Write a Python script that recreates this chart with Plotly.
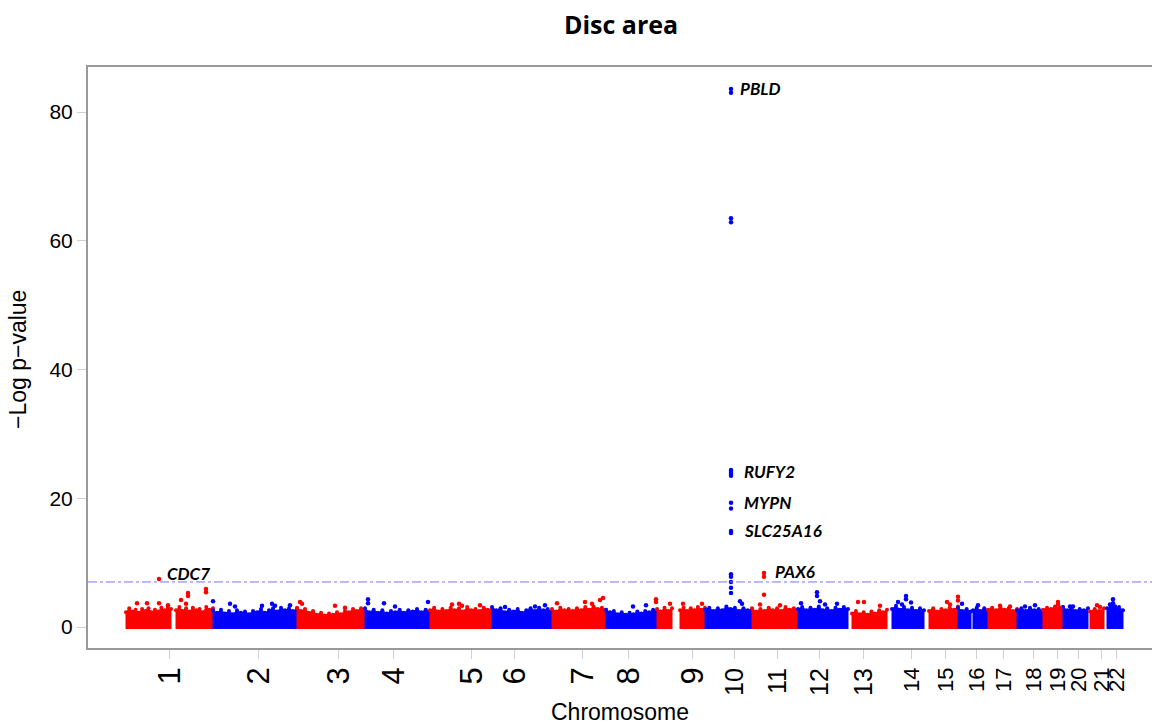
import numpy as np
import plotly.graph_objects as go

# ---------------- data ----------------
CHROM_LABELS = [str(i) for i in range(1, 23)]
# tick positions on the cumulative genome axis (arbitrary units)
CHROM_TICKS = [81, 170, 250, 305, 383, 426, 494, 540, 604, 646, 689,
               731, 775, 823, 857, 888, 915, 945, 969, 990, 1013, 1028]
LABEL_SIZES = [31] * 9 + [25] * 4 + [22] * 9

# genomic segments (chromosome index, start, end) with the upper envelope of the dense SNP band
SEG_CHROM = [1, 1, 2, 3, 4, 5, 6, 7, 8, 9, 9, 10, 11, 12, 13, 14, 15, 16, 16, 17, 18, 19, 20, 21, 22]
SEG_START = [38, 88, 125, 209, 277, 342, 404, 464, 518, 569, 592, 617, 664, 710, 764, 804, 841, 870, 885, 900, 929, 955, 975, 1002, 1019]
SEG_END = [83, 125, 209, 277, 342, 404, 464, 518, 569, 584, 617, 664, 710, 760, 799, 836, 870, 883, 900, 929, 955, 975, 1000, 1016, 1035]
SEG_ENV = [
    [2.3, 2.9, 2.4, 2.7, 2.2, 2.8, 2.5, 2.9, 2.3, 2.7, 2.4, 3.0, 2.6, 3.1, 2.8],
    [2.6, 3.1, 2.5, 2.9, 2.4, 3.0, 2.6, 2.8, 2.3, 3.1, 2.7, 2.9],
    [2.6, 2.2, 2.7, 2.1, 2.5, 2.0, 2.6, 2.2, 2.4, 2.0, 2.5, 2.3, 2.8, 2.2, 2.6, 2.9, 2.4, 3.0, 2.6, 2.9, 2.5, 2.8],
    [3.0, 2.5, 2.8, 2.2, 2.5, 1.9, 2.2, 1.8, 2.1, 1.9, 2.3, 2.0, 2.5, 2.3, 2.8, 2.5, 2.9, 2.6],
    [2.9, 2.3, 2.7, 2.2, 2.6, 2.1, 2.5, 2.3, 2.7, 2.2, 2.6, 2.4, 2.8, 2.3, 2.7, 2.5],
    [2.6, 3.0, 2.4, 2.8, 2.5, 3.0, 2.6, 2.9, 2.4, 3.1, 2.6, 2.8, 2.5, 3.0, 2.7, 2.8],
    [3.1, 2.6, 2.9, 2.3, 2.7, 2.4, 2.8, 2.2, 2.6, 2.9, 2.5, 3.0, 2.6, 2.8, 2.4],
    [2.8, 2.4, 3.0, 2.6, 2.8, 2.5, 2.9, 2.6, 3.1, 2.7, 3.2, 2.8, 3.0, 2.7],
    [2.7, 2.3, 2.5, 2.0, 2.3, 1.9, 2.2, 2.0, 2.4, 2.1, 2.5, 2.3, 2.7, 2.5],
    [2.8, 2.4, 3.0, 2.5, 2.9],
    [2.6, 3.0, 2.5, 2.9, 2.6, 3.1, 2.7, 3.0],
    [2.7, 3.0, 2.5, 2.9, 2.6, 3.2, 2.8, 3.0, 2.5, 2.9, 2.6, 2.8],
    [2.9, 2.4, 2.8, 2.5, 3.0, 2.6, 2.9, 2.5, 3.1, 2.7, 2.9, 2.6],
    [2.8, 3.1, 2.6, 3.0, 2.7, 3.2, 2.6, 2.9, 2.5, 3.0, 2.7, 3.1, 2.8],
    [2.1, 2.5, 2.0, 2.3, 1.9, 2.4, 2.1, 2.6, 2.3, 2.7],
    [2.8, 3.3, 2.7, 3.1, 2.6, 3.0, 2.5, 2.9, 2.6],
    [2.5, 2.9, 2.4, 2.8, 2.6, 3.0, 2.7, 3.2],
    [3.0, 2.5, 2.8, 2.4],
    [2.6, 3.0, 2.5, 2.9, 2.6],
    [2.7, 3.0, 2.6, 3.1, 2.7, 2.9, 2.5, 2.8],
    [2.6, 2.9, 2.5, 3.0, 2.6, 2.8, 2.5],
    [2.7, 3.0, 2.8, 3.2, 2.9, 3.1],
    [3.1, 2.6, 2.9, 2.5, 2.8, 2.6, 2.9],
    [2.4, 2.8, 2.5, 2.9],
    [2.9, 3.4, 2.8, 3.1, 2.6],
]

# individual SNPs standing out of the band (chromosome, position, -log10 p)
SNP_CHROM = [1] * 11 + [2] * 7 + [3] * 4 + [4] * 5 + [5] * 4 + [6] * 3 + [7] * 5 + [8] * 2 + [9] * 5 \
    + [10] * 19 + [11] * 5 + [12] * 6 + [13] * 3 + [14] * 5 + [15] * 4 + [16] * 2 + [17] * 2 + [18] * 2 \
    + [19] * 3 + [20] * 2 + [21] * 2 + [22] * 4
SNP_POS = [71, 49, 59, 71, 93, 100, 100, 98, 118, 118, 80,
           125, 142, 147, 184, 202, 187, 174,
           212, 214, 247, 257,
           280, 280, 296, 307, 340,
           364, 371, 392, 374,
           417, 457, 447,
           469, 497, 512, 515, 504,
           545, 558,
           568, 568, 582, 595, 614,
           643, 643, 643, 643, 643, 643, 643, 643, 643, 643, 643, 643, 643, 643, 643, 643, 643, 652, 654,
           676, 676, 676, 672, 692,
           729, 729, 713, 749, 732, 737,
           770, 776, 792,
           818, 818, 810, 823, 814,
           859, 870, 870, 862,
           890, 874,
           912, 922,
           947, 937,
           970, 970, 972,
           982, 985,
           1009, 1012,
           1025, 1025, 1022, 1027]
SNP_LOGP = [7.45, 3.7, 3.7, 3.7, 4.2, 5.3, 4.8, 3.6, 5.9, 5.4, 3.4,
            4.0, 3.6, 3.2, 3.6, 3.4, 3.3, 3.3,
            3.9, 3.6, 3.3, 3.0,
            4.3, 3.7, 3.7, 3.2, 3.9,
            3.5, 3.6, 3.4, 3.3,
            3.1, 3.4, 3.2,
            3.7, 3.9, 4.2, 4.5, 3.6,
            3.2, 3.4,
            4.3, 3.9, 3.6, 3.6, 3.6,
            83.6, 83.0, 63.5, 62.9, 24.4, 24.1, 23.8, 23.5, 19.3, 18.4, 14.9, 14.6, 8.2, 7.8, 7.0, 6.1, 5.3, 4.0, 3.6,
            8.4, 7.8, 5.0, 3.5, 3.4,
            5.4, 4.8, 3.7, 3.6, 4.0, 3.5,
            3.9, 3.9, 3.3,
            4.8, 4.3, 3.9, 3.8, 3.5,
            3.9, 4.7, 4.1, 3.5,
            3.4, 3.6,
            3.3, 3.2,
            3.4, 3.2,
            3.9, 3.5, 3.0,
            3.2, 3.2,
            3.4, 3.1,
            4.3, 3.7, 3.5, 3.2]

# annotated genes (label, position, -log10 p of lead SNP)
GENE_NAMES = ["PBLD", "RUFY2", "MYPN", "SLC25A16", "PAX6", "CDC7"]
GENE_POS = [643, 643, 643, 643, 676, 71]
GENE_LOGP = [83.6, 24.1, 18.9, 14.75, 8.4, 7.45]

THRESHOLD = 7.0
TITLE = "Disc area"

# ---------------- styling ----------------
RED, BLUE = "#ff0000", "#0000ff"
def chrom_color(c):
    return RED if c % 2 == 1 else BLUE

NUM_FONT = "Liberation Sans, Arial, sans-serif"
W, H = 1152, 726
ML, MR, MT, MB = 88, 0, 67, 78
XR = [0, 1064]
YR = [-3.26, 87.0]

fig = go.Figure()

BASE = -0.3
for c, s, e, env in zip(SEG_CHROM, SEG_START, SEG_END, SEG_ENV):
    xs = np.linspace(s, e, len(env))
    col = chrom_color(c)
    fig.add_trace(go.Scatter(
        x=[s] + list(xs) + [e], y=[BASE] + list(env) + [BASE],
        mode="lines", fill="toself", fillcolor=col,
        line=dict(color=col, width=1), hoverinfo="skip", showlegend=False))
    # dotted fringe on top of the dense band
    fig.add_trace(go.Scatter(
        x=xs, y=env, mode="markers", marker=dict(color=col, size=4, line=dict(width=0)),
        hoverinfo="skip", showlegend=False))

snp_colors = [chrom_color(c) for c in SNP_CHROM]
fig.add_trace(go.Scatter(
    x=SNP_POS, y=SNP_LOGP, mode="markers",
    marker=dict(color=snp_colors, size=4.5, line=dict(width=0)),
    showlegend=False))

# genome-wide significance line
fig.add_shape(type="line", xref="paper", x0=0, x1=1, yref="y", y0=THRESHOLD, y1=THRESHOLD,
              line=dict(color="#7474ff", width=1, dash="dashdot"))

# gene labels
gene_off = {"PBLD": (7, 0), "RUFY2": (11, 0), "MYPN": (11, 3), "SLC25A16": (11, 2),
            "PAX6": (9, 1), "CDC7": (6, 6)}
for g, x, y in zip(GENE_NAMES, GENE_POS, GENE_LOGP):
    dx, dy = gene_off[g]
    fig.add_annotation(x=x, y=y, xref="x", yref="y", text=f"<b><i>{g}</i></b>",
                       showarrow=False, xanchor="left", yanchor="middle",
                       xshift=dx, yshift=dy,
                       font=dict(family="Lato, Open Sans, sans-serif", size=17, color="black"))

# chromosome labels (rotated)
for lab, t, sz in zip(CHROM_LABELS, CHROM_TICKS, LABEL_SIZES):
    fig.add_annotation(x=t, y=-(666 - 648) / (H - MT - MB), xref="x", yref="paper",
                       text=lab, textangle=-90, showarrow=False,
                       xanchor="center", yanchor="top",
                       font=dict(family=NUM_FONT, size=sz, color="black"))

# axis titles
fig.add_annotation(x=0.5, y=-(712 - 648) / (H - MT - MB), xref="paper", yref="paper",
                   text="Chromosome", showarrow=False, xanchor="center", yanchor="middle",
                   font=dict(family=NUM_FONT, size=23, color="black"))
fig.add_annotation(x=(18 - ML) / (W - ML - MR), y=(648 - 360) / (H - MT - MB), xref="paper", yref="paper",
                   text="\u2212Log p\u2212value", textangle=-90, showarrow=False,
                   xanchor="center", yanchor="middle",
                   font=dict(family=NUM_FONT, size=23, color="black"))

fig.update_layout(
    width=W, height=H,
    margin=dict(l=ML, r=MR, t=MT, b=MB, pad=0),
    paper_bgcolor="white", plot_bgcolor="white",
    showlegend=False,
    title=dict(text=f"<b>{TITLE}</b>", x=621 / W, xanchor="center", y=1 - 25 / H, yanchor="middle",
               xref="container", yref="container",
               font=dict(family="Open Sans, Lato, sans-serif", size=25, color="black")),
    xaxis=dict(range=XR, showgrid=False, zeroline=False, showline=True, linecolor="#999999",
               linewidth=2, mirror=True, tickmode="array", tickvals=CHROM_TICKS,
               ticktext=[""] * len(CHROM_TICKS), ticks="outside", ticklen=9, tickwidth=1,
               tickcolor="#d0d0d0", showticklabels=False, fixedrange=True),
    yaxis=dict(range=YR, showgrid=False, zeroline=False, showline=True, linecolor="#999999",
               linewidth=2, mirror=False, tickmode="array", tickvals=[0, 20, 40, 60, 80],
               ticks="outside", ticklen=9, tickwidth=1, tickcolor="#d0d0d0",
               tickfont=dict(family=NUM_FONT, size=21, color="black"), fixedrange=True),
)

fig.write_html("out.html", config={"displayModeBar": False},
               post_script="document.body.style.margin='0';document.body.style.padding='0';")
